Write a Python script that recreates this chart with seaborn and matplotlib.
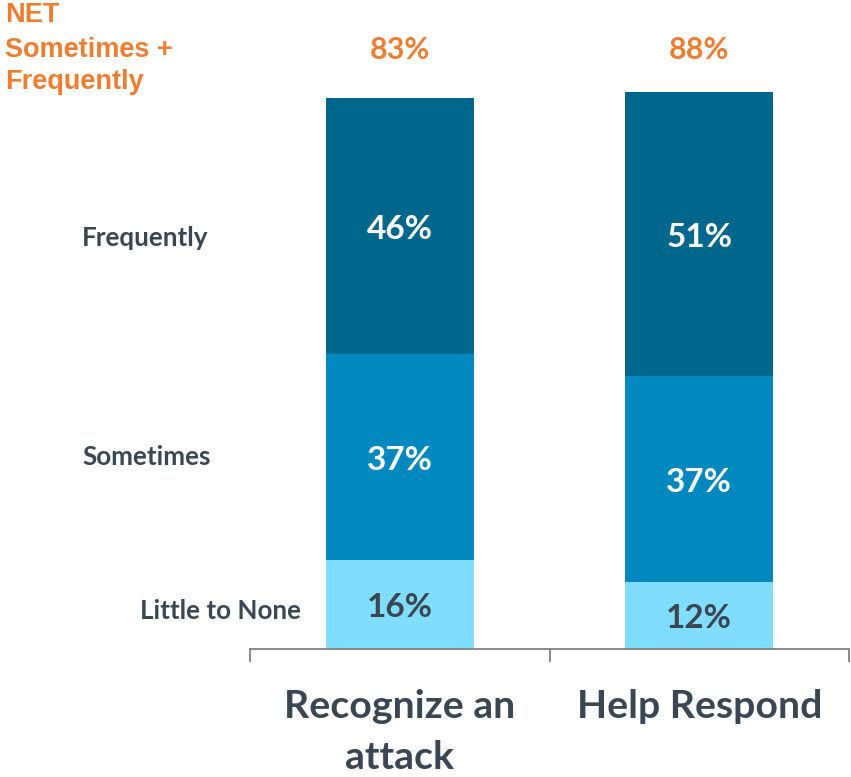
import matplotlib
matplotlib.use("Agg")
import matplotlib.pyplot as plt
import seaborn as sns
import pandas as pd

# Survey data
categories = ["Recognize an\nattack", "Help Respond"]
little_to_none = [16, 12]
sometimes = [37, 37]
frequently = [46, 51]
net_labels = ["83%", "88%"]
row_labels = ["Frequently", "Sometimes", "Little to None"]

c_freq = "#00678C"
c_some = "#0088BF"
c_little = "#80DDFE"
c_text = "#3A4753"
c_orange = "#EE7D31"

sns.set_style("white")
plt.rcParams["font.family"] = ["Lato", "DejaVu Sans"]

df = pd.DataFrame({
    "category": categories,
    "little": little_to_none,
    "sometimes": sometimes,
    "frequently": frequently,
})
df["cum_little"] = df["little"]
df["cum_some"] = df["little"] + df["sometimes"]
df["cum_total"] = df["cum_some"] + df["frequently"]

W, H = 851, 777
fig = plt.figure(figsize=(W / 100, H / 100), dpi=100)
ax = fig.add_axes([250 / W, (H - 649) / H, 599 / W, 649 / H])

# Stacked bars: draw cumulative totals from the top segment down
bw = 0.495
for col, color in [("cum_total", c_freq), ("cum_some", c_some), ("cum_little", c_little)]:
    sns.barplot(data=df, x="category", y=col, color=color, saturation=1,
                width=bw, ax=ax, linewidth=0)

ax.set_xlim(-0.5, 1.5)
ax.set_ylim(0, 116.56)
ax.set_xlabel("")
ax.set_ylabel("")
ax.set_yticks([])
for s in ["top", "left", "right"]:
    ax.spines[s].set_visible(False)
ax.spines["bottom"].set_color("#7F7F7F")
ax.spines["bottom"].set_linewidth(1.3)

ax.set_xticks([0, 1])
ax.set_xticklabels(categories, fontsize=28.3, fontweight="bold", color=c_text,
                   linespacing=1.55)
ax.tick_params(axis="x", which="major", length=0, pad=29)
ax.set_xticks([-0.5, 0.5, 1.5], minor=True)
ax.tick_params(axis="x", which="minor", bottom=True, length=9.5, width=1.3,
               color="#7F7F7F", direction="out")

# Segment value labels (nudged slightly below the segment centre)
dy = -0.6
for i, row in df.iterrows():
    ax.text(i, row["little"] / 2 + dy, f"{row['little']}%", ha="center", va="center",
            fontsize=24, fontweight="bold", color=c_text)
    ax.text(i, row["cum_little"] + row["sometimes"] / 2 + dy, f"{row['sometimes']}%",
            ha="center", va="center", fontsize=24, fontweight="bold", color="white")
    ax.text(i, row["cum_some"] + row["frequently"] / 2 + dy, f"{row['frequently']}%",
            ha="center", va="center", fontsize=24, fontweight="bold", color="white")
    ax.text(i, 107.6, net_labels[i], ha="center", va="center",
            fontsize=22, fontweight="bold", color=c_orange)

# Row labels on the left
fig.text(82 / W, 1 - 238 / H, row_labels[0], ha="left", va="center",
         fontsize=18.7, fontweight="bold", color=c_text)
fig.text(82 / W, 1 - 457 / H, row_labels[1], ha="left", va="center",
         fontsize=18.7, fontweight="bold", color=c_text)
fig.text(301 / W, 1 - 611 / H, row_labels[2], ha="right", va="center",
         fontsize=18.7, fontweight="bold", color=c_text)

# NET header
net_font = ["Liberation Sans", "DejaVu Sans"]
for txt, y in [("NET", 15), ("Sometimes +", 50), ("Frequently", 82)]:
    fig.text(5 / W, 1 - y / H, txt, ha="left", va="center", fontsize=19.5,
             fontweight="bold", color=c_orange, family=net_font)

fig.savefig("out.png", dpi=100)
